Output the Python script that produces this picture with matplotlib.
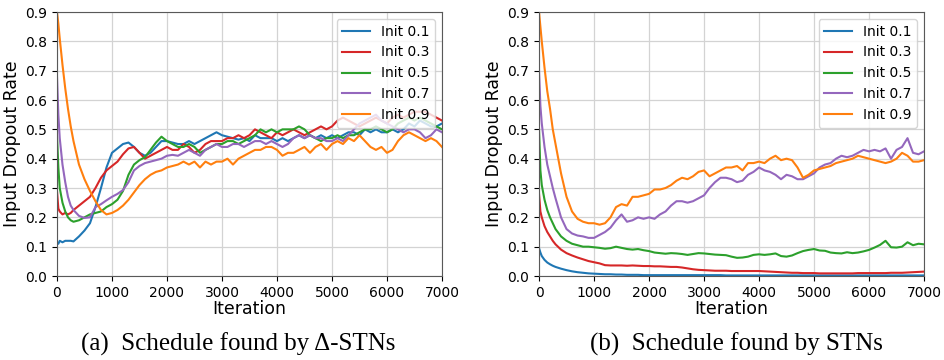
import matplotlib
matplotlib.use("Agg")
import matplotlib.pyplot as plt
import numpy as np

# iteration grid (dense near the start where the schedules drop fast)
iters = np.concatenate([[0, 25, 50, 100, 150, 200, 250], np.arange(300, 7001, 100)])

labels = ["Init 0.1", "Init 0.3", "Init 0.5", "Init 0.7", "Init 0.9"]
colors = ["tab:blue", "tab:red", "tab:green", "tab:purple", "tab:orange"]

# (a) Delta-STNs
a_init01 = [0.115, 0.11, 0.12, 0.115, 0.12, 0.12, 0.12, 0.118,
            0.135, 0.155, 0.18, 0.235, 0.30, 0.37, 0.42,
            0.435, 0.45, 0.455, 0.44, 0.42, 0.41, 0.42, 0.44, 0.46, 0.46,
            0.455, 0.45, 0.45, 0.46, 0.45, 0.46, 0.47, 0.48, 0.49, 0.48,
            0.475, 0.47, 0.465, 0.47, 0.46, 0.48, 0.47, 0.47, 0.47, 0.46,
            0.47, 0.46, 0.47, 0.48, 0.47, 0.48, 0.47, 0.48, 0.47, 0.48,
            0.47, 0.48, 0.49, 0.49, 0.48, 0.50, 0.49, 0.50, 0.49, 0.49,
            0.50, 0.49, 0.50, 0.52, 0.51, 0.53, 0.52, 0.51, 0.51, 0.52]
a_init03 = [0.29, 0.23, 0.22, 0.21, 0.215, 0.21, 0.215, 0.225,
            0.24, 0.255, 0.27, 0.30, 0.335, 0.36, 0.375,
            0.39, 0.415, 0.435, 0.44, 0.42, 0.40, 0.41, 0.42, 0.43, 0.44,
            0.43, 0.43, 0.45, 0.44, 0.42, 0.43, 0.45, 0.46, 0.46, 0.46,
            0.47, 0.47, 0.48, 0.47, 0.48, 0.50, 0.49, 0.48, 0.47, 0.49,
            0.48, 0.49, 0.50, 0.49, 0.48, 0.49, 0.50, 0.51, 0.50, 0.51,
            0.53, 0.54, 0.53, 0.52, 0.51, 0.52, 0.53, 0.54, 0.53, 0.52,
            0.54, 0.55, 0.54, 0.55, 0.56, 0.56, 0.56, 0.55, 0.54, 0.53]
a_init05 = [0.48, 0.37, 0.30, 0.25, 0.22, 0.20, 0.19, 0.185,
            0.19, 0.20, 0.21, 0.215, 0.22, 0.235, 0.245,
            0.26, 0.29, 0.345, 0.38, 0.395, 0.405, 0.43, 0.455, 0.475, 0.46,
            0.45, 0.44, 0.44, 0.45, 0.44, 0.42, 0.43, 0.44, 0.45, 0.45,
            0.46, 0.46, 0.45, 0.46, 0.47, 0.48, 0.50, 0.49, 0.50, 0.49,
            0.50, 0.50, 0.50, 0.51, 0.50, 0.48, 0.47, 0.46, 0.47, 0.47,
            0.48, 0.47, 0.48, 0.48, 0.49, 0.50, 0.50, 0.51, 0.50, 0.49,
            0.50, 0.52, 0.53, 0.54, 0.53, 0.54, 0.53, 0.52, 0.51, 0.50]
a_init07 = [0.68, 0.55, 0.47, 0.38, 0.32, 0.27, 0.24, 0.225,
            0.205, 0.198, 0.20, 0.235, 0.245, 0.258, 0.27,
            0.28, 0.293, 0.32, 0.36, 0.375, 0.385, 0.39, 0.395, 0.40, 0.41,
            0.413, 0.41, 0.42, 0.43, 0.42, 0.41, 0.43, 0.44, 0.45, 0.44,
            0.44, 0.45, 0.45, 0.44, 0.45, 0.46, 0.46, 0.45, 0.46, 0.45,
            0.44, 0.45, 0.47, 0.48, 0.47, 0.48, 0.47, 0.47, 0.46, 0.46,
            0.47, 0.46, 0.48, 0.50, 0.52, 0.53, 0.54, 0.55, 0.53, 0.52,
            0.51, 0.50, 0.49, 0.50, 0.50, 0.49, 0.47, 0.48, 0.50, 0.49]
a_init09 = [0.90, 0.86, 0.81, 0.72, 0.64, 0.57, 0.51, 0.46,
            0.38, 0.33, 0.29, 0.255, 0.225, 0.21, 0.215,
            0.225, 0.24, 0.26, 0.285, 0.31, 0.33, 0.345, 0.355, 0.36, 0.37,
            0.375, 0.38, 0.39, 0.38, 0.39, 0.37, 0.39, 0.38, 0.39, 0.39,
            0.40, 0.38, 0.40, 0.41, 0.42, 0.43, 0.43, 0.44, 0.44, 0.43,
            0.41, 0.42, 0.42, 0.43, 0.44, 0.42, 0.44, 0.45, 0.43, 0.45,
            0.46, 0.45, 0.47, 0.46, 0.48, 0.46, 0.44, 0.43, 0.44, 0.42,
            0.43, 0.46, 0.48, 0.49, 0.48, 0.47, 0.46, 0.47, 0.46, 0.44]

# (b) STNs
b_init01 = [0.095, 0.08, 0.068, 0.055, 0.046, 0.04, 0.035, 0.031,
            0.025, 0.02, 0.016, 0.013, 0.011, 0.009, 0.008,
            0.007, 0.006, 0.006, 0.005, 0.005, 0.004, 0.004, 0.004, 0.003, 0.003,
            0.003, 0.003, 0.003, 0.003, 0.003, 0.003, 0.003, 0.003, 0.003, 0.003,
            0.003, 0.003, 0.003, 0.002, 0.002, 0.002, 0.002, 0.002, 0.002, 0.002,
            0.002, 0.002, 0.002, 0.002, 0.002, 0.002, 0.002, 0.002, 0.002, 0.002,
            0.002, 0.002, 0.002, 0.002, 0.002, 0.002, 0.002, 0.002, 0.002, 0.002,
            0.002, 0.002, 0.002, 0.002, 0.002, 0.002, 0.002, 0.002, 0.002, 0.002]
b_init03 = [0.28, 0.22, 0.20, 0.17, 0.15, 0.135, 0.12, 0.108,
            0.09, 0.078, 0.07, 0.063, 0.057, 0.051, 0.047,
            0.043, 0.037, 0.036, 0.036, 0.036, 0.035, 0.036, 0.035, 0.034, 0.034,
            0.033, 0.033, 0.032, 0.031, 0.031, 0.029, 0.026, 0.023, 0.021, 0.02,
            0.019, 0.018, 0.018, 0.018, 0.017, 0.017, 0.017, 0.017, 0.017, 0.017,
            0.016, 0.015, 0.014, 0.013, 0.012, 0.011, 0.011, 0.010, 0.010, 0.010,
            0.009, 0.009, 0.009, 0.009, 0.009, 0.009, 0.009, 0.010, 0.010, 0.010,
            0.010, 0.010, 0.010, 0.011, 0.011, 0.011, 0.012, 0.013, 0.014, 0.015]
b_init05 = [0.50, 0.36, 0.31, 0.26, 0.225, 0.20, 0.18, 0.16,
            0.135, 0.12, 0.11, 0.105, 0.10, 0.10, 0.098,
            0.096, 0.093, 0.095, 0.10, 0.096, 0.092, 0.09, 0.092, 0.088, 0.085,
            0.08, 0.078, 0.076, 0.078, 0.077, 0.075, 0.072, 0.075, 0.078, 0.077,
            0.075, 0.073, 0.072, 0.071, 0.066, 0.062, 0.063, 0.066, 0.072, 0.074,
            0.072, 0.074, 0.077, 0.068, 0.066, 0.07, 0.078, 0.085, 0.089, 0.092,
            0.087, 0.086, 0.08, 0.078, 0.077, 0.081, 0.078, 0.08, 0.084, 0.089,
            0.097, 0.106, 0.12, 0.098, 0.097, 0.10, 0.115, 0.105, 0.11, 0.108]
b_init07 = [0.70, 0.58, 0.52, 0.44, 0.38, 0.34, 0.30, 0.265,
            0.20, 0.16, 0.145, 0.138, 0.135, 0.13, 0.13,
            0.14, 0.15, 0.165, 0.19, 0.21, 0.185, 0.19, 0.20, 0.195, 0.20,
            0.195, 0.21, 0.22, 0.24, 0.255, 0.255, 0.25, 0.255, 0.265, 0.275,
            0.30, 0.32, 0.335, 0.335, 0.33, 0.32, 0.325, 0.345, 0.355, 0.37,
            0.36, 0.355, 0.345, 0.33, 0.345, 0.34, 0.33, 0.33, 0.34, 0.35,
            0.37, 0.38, 0.385, 0.40, 0.41, 0.405, 0.41, 0.42, 0.43, 0.425,
            0.43, 0.425, 0.435, 0.40, 0.43, 0.44, 0.47, 0.42, 0.415, 0.425]
b_init09 = [0.90, 0.85, 0.80, 0.71, 0.63, 0.57, 0.50, 0.45,
            0.35, 0.27, 0.22, 0.195, 0.185, 0.18, 0.18,
            0.175, 0.18, 0.20, 0.235, 0.245, 0.24, 0.27, 0.27, 0.275, 0.28,
            0.295, 0.295, 0.30, 0.31, 0.325, 0.335, 0.33, 0.34, 0.355, 0.36,
            0.34, 0.35, 0.36, 0.37, 0.37, 0.375, 0.36, 0.385, 0.385, 0.39,
            0.385, 0.40, 0.41, 0.395, 0.40, 0.395, 0.37, 0.335, 0.345, 0.36,
            0.365, 0.37, 0.375, 0.385, 0.39, 0.395, 0.40, 0.41, 0.405, 0.40,
            0.395, 0.39, 0.385, 0.39, 0.40, 0.42, 0.41, 0.39, 0.39, 0.395]

panel_a = [a_init01, a_init03, a_init05, a_init07, a_init09]
panel_b = [b_init01, b_init03, b_init05, b_init07, b_init09]
captions = ["(a)  Schedule found by \u0394-STNs", "(b)  Schedule found by STNs"]

fig = plt.figure(figsize=(9.45, 3.6), dpi=100)
ax1 = fig.add_axes([0.0603, 0.2333, 0.4074, 0.7333])
ax2 = fig.add_axes([0.5704, 0.2333, 0.4074, 0.7333])

for ax, series in [(ax1, panel_a), (ax2, panel_b)]:
    for ys, lab, c in zip(series, labels, colors):
        ax.plot(iters, ys, color=c, lw=1.5, label=lab)
    ax.set_xlim(0, 7000)
    ax.set_ylim(0, 0.9)
    ax.set_xticks(np.arange(0, 7001, 1000))
    ax.set_yticks(np.arange(0, 0.91, 0.1))
    ax.yaxis.set_major_formatter(matplotlib.ticker.FormatStrFormatter("%.1f"))
    ax.tick_params(labelsize=10)
    ax.grid(True, color="#d3d3d3", lw=0.9)
    ax.set_axisbelow(True)
    for s in ax.spines.values():
        s.set_color("0.35")
    ax.set_xlabel("Iteration", fontsize=12.5, labelpad=0)
    ax.set_ylabel("Input Dropout Rate", fontsize=12.5, labelpad=3)
    ax.legend(loc="upper right", fontsize=10, framealpha=0.8)

fig.text(0.252, 0.026, captions[0], ha="center", va="baseline",
         family="Liberation Serif", fontsize=18)
fig.text(0.779, 0.026, captions[1], ha="center", va="baseline",
         family="Liberation Serif", fontsize=18)

fig.savefig("out.png", dpi=100)
